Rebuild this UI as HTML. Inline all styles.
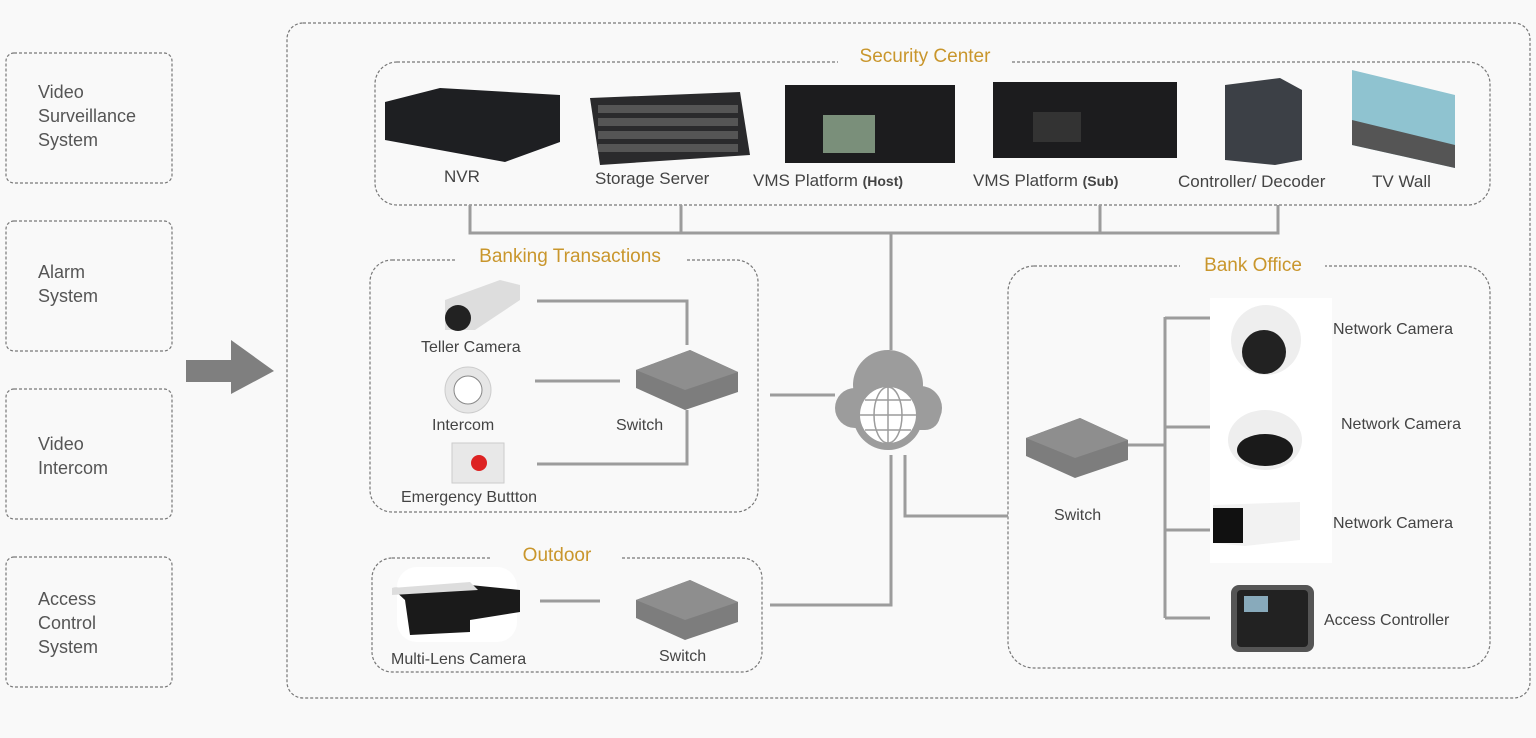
<!DOCTYPE html>
<html><head><meta charset="utf-8"><style>
html,body{margin:0;padding:0;background:#f9f9f9;}
svg{display:block;}
text{font-family:"Liberation Sans",sans-serif;}
.l{font-size:18px;fill:#555;}
.d{font-size:17px;fill:#444;}
.t{font-size:19px;fill:#c9962c;}
.s{font-size:16px;fill:#444;}
</style></head><body>
<svg width="1536" height="738" viewBox="0 0 1536 738" xmlns="http://www.w3.org/2000/svg">
<rect width="1536" height="738" fill="#f9f9f9"/>
<g fill="none" stroke="#777" stroke-width="1.2" stroke-dasharray="3,2">
<rect x="6" y="53" width="166" height="130" rx="8"/>
<rect x="6" y="221" width="166" height="130" rx="8"/>
<rect x="6" y="389" width="166" height="130" rx="8"/>
<rect x="6" y="557" width="166" height="130" rx="8"/>
<rect x="287" y="23" width="1243" height="675" rx="16"/>
<rect x="375" y="62" width="1115" height="143" rx="22"/>
<rect x="370" y="260" width="388" height="252" rx="22"/>
<rect x="372" y="558" width="390" height="114" rx="20"/>
<rect x="1008" y="266" width="482" height="402" rx="26"/>
</g>
<!-- title gaps -->
<rect x="838" y="42" width="174" height="30" fill="#f9f9f9"/>
<rect x="455" y="242" width="230" height="28" fill="#f9f9f9"/>
<rect x="492" y="540" width="130" height="28" fill="#f9f9f9"/>
<rect x="1180" y="250" width="145" height="28" fill="#f9f9f9"/>
<text class="t" x="925" y="62" text-anchor="middle">Security Center</text>
<text class="t" x="570" y="262" text-anchor="middle">Banking Transactions</text>
<text class="t" x="557" y="561" text-anchor="middle">Outdoor</text>
<text class="t" x="1253" y="271" text-anchor="middle">Bank Office</text>
<!-- left -->
<text class="l" x="38" y="98">Video</text><text class="l" x="38" y="122">Surveillance</text><text class="l" x="38" y="146">System</text>
<text class="l" x="38" y="278">Alarm</text><text class="l" x="38" y="302">System</text>
<text class="l" x="38" y="450">Video</text><text class="l" x="38" y="474">Intercom</text>
<text class="l" x="38" y="605">Access</text><text class="l" x="38" y="629">Control</text><text class="l" x="38" y="653">System</text>
<polygon points="186,360 231,360 231,340 274,371 231,394 231,382 186,382" fill="#7f7f7f"/>
<!-- lines -->
<g fill="none" stroke="#9c9c9c" stroke-width="3">
<polyline points="470,205 470,233 1278,233 1278,205"/>
<line x1="681" y1="205" x2="681" y2="233"/><line x1="1100" y1="205" x2="1100" y2="233"/>
<line x1="891" y1="233" x2="891" y2="350"/>
<polyline points="537,301 687,301 687,345"/>
<line x1="535" y1="381" x2="620" y2="381"/>
<polyline points="537,464 687,464 687,410"/>
<line x1="770" y1="395" x2="835" y2="395"/>
<polyline points="891,455 891,605 770,605"/>
<polyline points="905,455 905,516 1008,516"/>
<line x1="540" y1="601" x2="600" y2="601"/>
<line x1="1115" y1="445" x2="1165" y2="445"/>
<line x1="1165" y1="317" x2="1165" y2="618"/>
<line x1="1165" y1="318" x2="1210" y2="318"/><line x1="1165" y1="427" x2="1210" y2="427"/>
<line x1="1165" y1="530" x2="1210" y2="530"/><line x1="1165" y1="618" x2="1210" y2="618"/>
</g>
<!-- security devices -->
<polygon points="385,102 440,88 560,95 560,142 505,162 385,140" fill="#1e1f22"/>
<polygon points="590,98 740,92 750,155 600,165" fill="#2a2a2c"/>
<g fill="#555"><rect x="598" y="105" width="140" height="8"/><rect x="598" y="118" width="140" height="8"/><rect x="598" y="131" width="140" height="8"/><rect x="598" y="144" width="140" height="8"/></g>
<rect x="785" y="85" width="170" height="78" fill="#1c1c1e"/>
<rect x="823" y="115" width="52" height="38" fill="#7a8f7a"/>
<rect x="993" y="82" width="184" height="76" fill="#1c1c1e"/>
<rect x="1033" y="112" width="48" height="30" fill="#333"/>
<polygon points="1225,85 1280,78 1302,90 1302,160 1275,165 1225,160" fill="#3c4046"/>
<polygon points="1352,70 1455,95 1455,168 1352,145" fill="#8fc3d0"/>
<polygon points="1352,120 1455,145 1455,168 1352,145" fill="#555"/>
<text class="d" x="444" y="182">NVR</text>
<text class="d" x="595" y="184">Storage Server</text>
<text class="d" x="753" y="186">VMS Platform <tspan font-size="14" font-weight="bold">(Host)</tspan></text>
<text class="d" x="973" y="186">VMS Platform <tspan font-size="14" font-weight="bold">(Sub)</tspan></text>
<text class="d" x="1178" y="187">Controller/ Decoder</text>
<text class="d" x="1372" y="187">TV Wall</text>
<!-- banking -->
<polygon points="445,300 500,280 520,285 520,300 475,330 445,330" fill="#ddd"/>
<circle cx="458" cy="318" r="13" fill="#222"/>
<circle cx="468" cy="390" r="23" fill="#e6e6e6" stroke="#ccc"/>
<circle cx="468" cy="390" r="14" fill="#fff" stroke="#888"/>
<rect x="452" y="443" width="52" height="40" fill="#e8e8e8" stroke="#ccc"/>
<circle cx="479" cy="463" r="8" fill="#d22"/>
<text class="s" x="421" y="352">Teller Camera</text>
<text class="s" x="432" y="430">Intercom</text>
<text class="s" x="401" y="502">Emergency Buttton</text>
<g id="sw"><polygon points="636,370 690,350 738,372 738,392 685,410 636,388" fill="#7d7d7d"/><polygon points="636,370 690,350 738,372 685,390" fill="#8e8e8e"/></g>
<text class="s" x="616" y="430">Switch</text>
<!-- outdoor -->
<rect x="397" y="567" width="120" height="75" rx="20" fill="#fff"/>
<polygon points="392,588 470,585 520,590 520,612 470,620 470,632 410,635 405,600" fill="#1a1a1a"/>
<polygon points="392,588 470,582 478,590 392,595" fill="#ddd"/>
<use href="#sw" transform="translate(0,230)"/>
<text class="s" x="391" y="664">Multi-Lens Camera</text>
<text class="s" x="659" y="661">Switch</text>
<!-- cloud -->
<g fill="#9c9c9c"><circle cx="888" cy="385" r="35"/><circle cx="855" cy="408" r="20"/><circle cx="920" cy="408" r="22"/><rect x="850" y="395" width="90" height="35" rx="15"/></g>
<circle cx="888" cy="415" r="35" fill="#9c9c9c"/>
<circle cx="888" cy="415" r="28" fill="#fff"/>
<g stroke="#9c9c9c" stroke-width="1.5" fill="none"><ellipse cx="888" cy="415" rx="14" ry="28"/><line x1="888" y1="387" x2="888" y2="443"/><line x1="860" y1="415" x2="916" y2="415"/><line x1="865" y1="400" x2="911" y2="400"/><line x1="865" y1="430" x2="911" y2="430"/></g>
<!-- bank office -->
<use href="#sw" transform="translate(390,68)"/>
<text class="s" x="1054" y="520">Switch</text>
<rect x="1210" y="298" width="122" height="265" fill="#fff"/>
<circle cx="1266" cy="340" r="35" fill="#eee"/><circle cx="1264" cy="352" r="22" fill="#222"/>
<ellipse cx="1265" cy="440" rx="37" ry="30" fill="#eee"/><ellipse cx="1265" cy="450" rx="28" ry="16" fill="#1a1a1a"/>
<polygon points="1213,505 1300,502 1300,540 1245,546 1213,543" fill="#f2f2f2"/><rect x="1213" y="508" width="30" height="35" fill="#111"/>
<rect x="1231" y="585" width="83" height="67" rx="8" fill="#555"/><rect x="1237" y="590" width="71" height="57" rx="4" fill="#222"/><rect x="1244" y="596" width="24" height="16" fill="#8ab"/>
<text class="s" x="1333" y="334">Network Camera</text>
<text class="s" x="1341" y="429">Network Camera</text>
<text class="s" x="1333" y="528">Network Camera</text>
<text class="s" x="1324" y="625">Access Controller</text>
</svg>
</body></html>
